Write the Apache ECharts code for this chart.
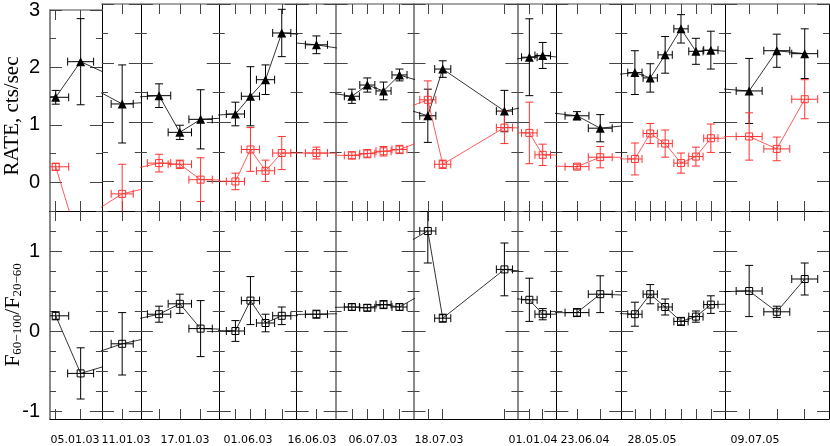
<!DOCTYPE html>
<html>
<head>
<meta charset="utf-8">
<script src="https://cdn.jsdelivr.net/npm/echarts@6/dist/echarts.min.js"></script>
<style>
  html, body { margin: 0; padding: 0; background: #fff; }
  #chart { width: 830px; height: 446px; }
</style>
</head>
<body>
<div id="chart"></div>
<script>
// observation windows (each one is its own little panel)
const segLabels = ['05.01.03', '11.01.03', '17.01.03', '01.06.03', '16.06.03', '06.07.03',
                   '18.07.03', '01.01.04', '23.06.04', '28.05.05', '09.07.05'];
const segWidth = [4, 3, 6, 6, 3, 6, 8, 3, 5, 8, 8];
// point positions inside each window
const segX = [[0.44, 2.36], [1.56], [1.4, 3.0, 4.6], [1.28, 2.44, 3.6, 4.85], [1.52],
              [1.25, 2.44, 3.69, 4.92], [1.1, 2.25, 7.0], [0.92, 1.95], [1.59, 3.38],
              [1.05, 2.23, 3.38, 4.6, 5.75, 6.9], [1.85, 3.98, 6.13]];
const segXErr = [1.0, 0.85, 0.9, 0.7, 0.85, 0.58, 0.62, 0.6, 0.92, 0.55, 1.0];
// distance to the neighbouring window's point (for the joining lines)
const gapLeft = [null, 5.2, 9, 6, 8.5, 25, 9, 30, 40, 40, 40];
const gapRight = [6, 8.7, 6, 10, 24, 9.2, 20, 40, 40, 40, null];

// 20-60 keV rate (triangles)
const rate2060 = [[1.48, 2.10], [1.31], [1.45, 0.83, 1.05], [1.14, 1.44, 1.72, 2.51], [2.31],
                  [1.44, 1.63, 1.53, 1.80], [1.11, 1.90, 1.19], [2.10, 2.13], [1.11, 0.90],
                  [1.84, 1.75, 2.14, 2.58, 2.20, 2.22], [1.53, 2.21, 2.16]];
const rate2060Err = [[0.12, 0.75], [0.66], [0.2, 0.12, 0.5], [0.2, 0.5, 0.25, 0.4], [0.15],
                     [0.12, 0.12, 0.15, 0.1], [0.45, 0.14, 0.35], [0.65, 0.22], [0.07, 0.23],
                     [0.37, 0.24, 0.31, 0.24, 0.22, 0.32], [0.55, 0.28, 0.42]];
// 60-100 keV rate (red squares)
const rate60100 = [[0.27, -1.15], [-0.21], [0.31, 0.29, 0.03], [0.0, 0.54, 0.18, 0.48], [0.48],
                   [0.44, 0.47, 0.51, 0.54], [1.38, 0.29, 0.91], [0.82, 0.45], [0.25, 0.41],
                   [0.38, 0.81, 0.64, 0.31, 0.42, 0.73], [0.76, 0.55, 1.39]];
const rate60100Err = [[0.06, 0.5], [0.5], [0.15, 0.07, 0.37], [0.14, 0.37, 0.18, 0.28], [0.1],
                      [0.06, 0.07, 0.08, 0.07], [0.32, 0.07, 0.27], [0.52, 0.18], [0.04, 0.18],
                      [0.27, 0.17, 0.23, 0.17, 0.16, 0.24], [0.4, 0.2, 0.33]];
// hardness ratio F60-100 / F20-60
const ratio = [[0.19, -0.53], [-0.16], [0.21, 0.34, 0.03], [0.0, 0.38, 0.10, 0.19], [0.21],
               [0.30, 0.29, 0.33, 0.30], [1.25, 0.16, 0.77], [0.39, 0.21], [0.23, 0.46],
               [0.21, 0.46, 0.30, 0.12, 0.18, 0.33], [0.50, 0.24, 0.65]];
const ratioErr = [[0.05, 0.32], [0.39], [0.1, 0.12, 0.35], [0.13, 0.3, 0.11, 0.11], [0.05],
                  [0.04, 0.04, 0.05, 0.04], [0.4, 0.05, 0.33], [0.27, 0.07], [0.05, 0.23],
                  [0.15, 0.12, 0.1, 0.05, 0.07, 0.11], [0.32, 0.07, 0.2]];

const rateTicksMinor = [-0.5, 0, 0.5, 1, 1.5, 2, 2.5, 3];
const rateTicksMajor = [0, 1, 2, 3];
const ratioTicksMinor = [-1, -0.75, -0.5, -0.25, 0, 0.25, 0.5, 0.75, 1, 1.25];
const ratioTicksMajor = [-1, 0, 1];

// layout
const PLOT_L = 50, PLOT_R = 829, TOP_T = 4, MID = 211, BOT_B = 419;
const labelCenters = [75, 126, 185, 248, 312, 373, 439, 533, 585, 652, 755];
const grayDividers = [0, 5, 6, 7];
const RED = 'rgb(255,50,50)';
const TICK = '#444';

const nSeg = segLabels.length;
const totalW = segWidth.reduce((a, b) => a + b, 0);
const pxPerUnit = (PLOT_R - PLOT_L) / totalW;

function errorBars(color) {
    return function (params, api) {
        const cs = params.coordSys;
        const x = api.value(0), y = api.value(1), dx = api.value(2), dy = api.value(3);
        const x0 = cs.x, x1 = cs.x + cs.width, y0 = cs.y, y1 = cs.y + cs.height;
        const c = api.coord([x, y]);
        const xl = api.coord([x - dx, y])[0], xr = api.coord([x + dx, y])[0];
        const yt = api.coord([x, y + dy])[1], yb = api.coord([x, y - dy])[1];
        const style = { stroke: color, lineWidth: 1 };
        const kids = [];
        const seg = (a, b, c2, d) => kids.push({ type: 'line', shape: { x1: a, y1: b, x2: c2, y2: d }, style: style });
        const cap = 4;
        if (c[1] >= y0 && c[1] <= y1) {
            seg(Math.max(xl, x0), c[1], Math.min(xr, x1), c[1]);
            if (xl >= x0) seg(xl, c[1] - cap, xl, c[1] + cap);
            if (xr <= x1) seg(xr, c[1] - cap, xr, c[1] + cap);
        }
        const ytc = Math.max(yt, y0), ybc = Math.min(yb, y1);
        if (ytc < ybc) {
            seg(c[0], ytc, c[0], ybc);
            if (yt >= y0) seg(c[0] - cap, yt, c[0] + cap, yt);
            if (yb <= y1) seg(c[0] - cap, yb, c[0] + cap, yb);
        }
        return { type: 'group', children: kids };
    };
}

const panels = [
    {
        top: TOP_T, height: MID - TOP_T, min: -0.5, max: 3,
        minor: rateTicksMinor, major: rateTicksMajor, isTop: true,
        sets: [
            { vals: rate2060, errs: rate2060Err, color: '#000', symbol: 'triangle', size: 9, hollow: false },
            { vals: rate60100, errs: rate60100Err, color: RED, symbol: 'rect', size: 7, hollow: true }
        ]
    },
    {
        top: MID, height: BOT_B - MID, min: -1.1, max: 1.5,
        minor: ratioTicksMinor, major: ratioTicksMajor, isTop: false,
        sets: [
            { vals: ratio, errs: ratioErr, color: '#000', symbol: 'rect', size: 7, hollow: true }
        ]
    }
];

const grids = [], xAxes = [], yAxes = [], series = [];

panels.forEach(function (p) {
    let cum = 0;
    for (let i = 0; i < nSeg; i++) {
        const g = grids.length;
        grids.push({ left: PLOT_L + cum * pxPerUnit, top: p.top, width: segWidth[i] * pxPerUnit, height: p.height });
        cum += segWidth[i];

        ['bottom', 'top'].forEach(function (pos) {
            const outerTop = p.isTop && pos === 'top';
            xAxes.push({
                type: 'value', gridIndex: g, position: pos, min: 0, max: segWidth[i],
                axisLine: { show: true, onZero: false, lineStyle: outerTop ? { color: '#888', width: 1.5 } : { color: '#000', width: 1 } },
                axisTick: { show: true, inside: true, length: 10, customValues: segX[i], lineStyle: { color: TICK } },
                axisLabel: { show: false },
                splitLine: { show: false }
            });
        });
        ['left', 'right'].forEach(function (pos) {
            const gray = pos === 'left' && grayDividers.indexOf(i) >= 0;
            const lineShown = pos === 'left' || i === nSeg - 1;
            yAxes.push({
                type: 'value', gridIndex: g, position: pos, min: p.min, max: p.max,
                axisLine: { show: lineShown, onZero: false, lineStyle: gray ? { color: '#8a8a8a', width: 2 } : { color: '#000', width: 1 } },
                axisTick: { show: true, inside: true, length: 6, customValues: p.minor, lineStyle: { color: TICK } },
                axisLabel: { show: false },
                splitLine: { show: false }
            });
            yAxes.push({
                type: 'value', gridIndex: g, position: pos, min: p.min, max: p.max,
                axisLine: { show: false, onZero: false },
                axisTick: { show: true, inside: true, length: 12, customValues: p.major, lineStyle: { color: TICK } },
                axisLabel: {
                    show: i === 0 && pos === 'left', customValues: p.major, margin: 10,
                    fontFamily: 'Liberation Sans', fontSize: 20, color: '#000'
                },
                splitLine: { show: false }
            });
        });

        p.sets.forEach(function (s) {
            const pts = segX[i].map((x, k) => [x, s.vals[i][k]]);
            if (i > 0) pts.unshift([-gapLeft[i], s.vals[i - 1][s.vals[i - 1].length - 1]]);
            if (i < nSeg - 1) pts.push([segWidth[i] + gapRight[i], s.vals[i + 1][0]]);
            series.push({
                type: 'line', xAxisIndex: 2 * g, yAxisIndex: 4 * g, data: pts,
                symbol: s.symbol, symbolSize: s.size, showSymbol: true, clip: true,
                itemStyle: s.hollow ? { color: 'rgba(255,255,255,0)', borderColor: s.color, borderWidth: 1 } : { color: s.color },
                lineStyle: { color: s.color, width: 0.8 },
                animation: false, silent: true, z: 3
            });
            series.push({
                type: 'custom', xAxisIndex: 2 * g, yAxisIndex: 4 * g,
                data: segX[i].map((x, k) => [x, s.vals[i][k], segXErr[i], s.errs[i][k]]),
                renderItem: errorBars(s.color),
                animation: false, silent: true, z: 2
            });
        });
    }
});

const graphics = [
    {
        type: 'text', x: 12, y: 116, rotation: Math.PI / 2,
        style: { text: 'RATE, cts/sec', font: '21px "Liberation Serif"', fill: '#000', align: 'center', verticalAlign: 'middle' }
    },
    {
        type: 'text', x: 13, y: 315, rotation: Math.PI / 2,
        style: {
            text: '{m|F}{s|60\u2212100}{m|/F}{s|20\u221260}',
            align: 'center', verticalAlign: 'middle',
            rich: {
                m: { fontFamily: 'Liberation Serif', fontSize: 22, fill: '#000' },
                s: { fontFamily: 'Liberation Serif', fontSize: 13, fill: '#000', verticalAlign: 'bottom' }
            }
        }
    }
];
segLabels.forEach(function (lab, i) {
    graphics.push({
        type: 'text', x: labelCenters[i], y: 440,
        style: { text: lab, font: '11px "DejaVu Sans"', fill: '#000', align: 'center', verticalAlign: 'middle' }
    });
});

const chart = echarts.init(document.getElementById('chart'));
chart.setOption({
    backgroundColor: '#fff',
    animation: false,
    grid: grids,
    xAxis: xAxes,
    yAxis: yAxes,
    series: series,
    graphic: graphics
});
</script>
</body>
</html>
